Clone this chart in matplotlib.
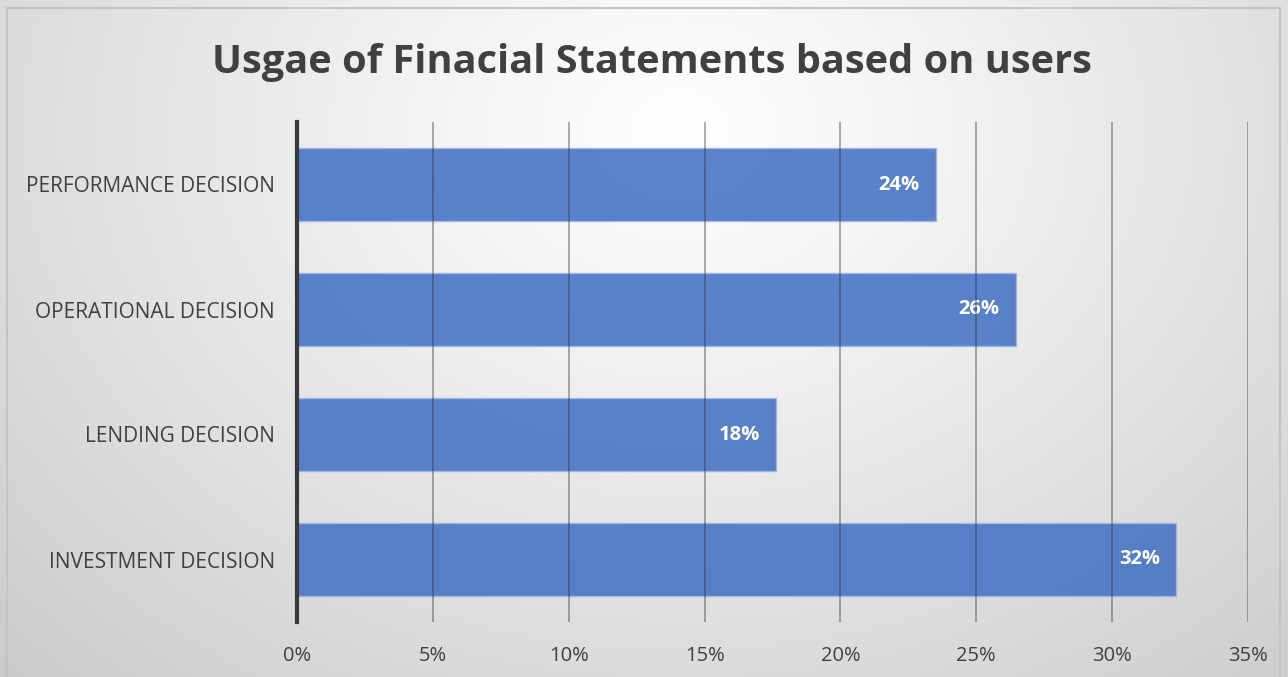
import numpy as np
import matplotlib
matplotlib.use('Agg')
import matplotlib.pyplot as plt
import matplotlib.patches as patches
from matplotlib.ticker import FuncFormatter

# usage per decision type (share of users, %)
categories = ['INVESTMENT DECISION', 'LENDING DECISION', 'OPERATIONAL DECISION', 'PERFORMANCE DECISION']
shares = [32.35, 17.63, 26.46, 23.52]
x_ticks = [0, 5, 10, 15, 20, 25, 30, 35]

TITLE = 'Usgae of Finacial Statements based on users'
BAR_COLOR = '#4472c4'
TEXT_GRAY = '#404040'

plt.rcParams['font.family'] = ['Open Sans', 'DejaVu Sans']

fig = plt.figure(figsize=(12.88, 6.77), dpi=100)

# pozadina - radijalni gradijent, svetlo u sredini gore, sivo prema ivicama
bg = fig.add_axes([0, 0, 1, 1], zorder=-10)
W, H = 1288, 677
xx, yy = np.meshgrid(np.arange(W), np.arange(H))
d = np.sqrt(((xx - 680) / 950.0) ** 2 + ((yy - 130) / 750.0) ** 2)
lvl = 1.0 - 0.2 * np.clip(d, 0, 1) ** 1.1
bg.imshow(np.dstack([lvl, lvl, lvl]), extent=(0, 1, 0, 1), aspect='auto', origin='upper')
bg.add_patch(patches.Rectangle((7 / W, -0.01), (1280 - 7) / W, (677 - 8) / H + 0.01,
                               fill=False, edgecolor='#c4c4c4', linewidth=1.5,
                               transform=bg.transAxes))
bg.set_xlim(0, 1)
bg.set_ylim(0, 1)
bg.axis('off')

ax = fig.add_axes([297 / W, 55 / H, 951 / W, 500 / H])
ax.patch.set_alpha(0)

ypos = np.arange(len(categories))
bars = ax.barh(ypos, shares, height=0.59, color=BAR_COLOR, alpha=0.88,
               edgecolor='#9db6e3', linewidth=1.0, zorder=3)

for b, v in zip(bars, shares):
    ax.text(b.get_width() - 0.6, b.get_y() + b.get_height() / 2, f'{v:.0f}%',
            ha='right', va='center', color='white', fontsize=14.5, fontweight='bold', zorder=4)

ax.set_xlim(0, 35)
ax.set_ylim(-0.5, 3.5)
ax.set_xticks(x_ticks)
ax.xaxis.set_major_formatter(FuncFormatter(lambda v, p: f'{v:.0f}%'))
ax.set_yticks(ypos)
ax.set_yticklabels(categories)

# vertikalne linije mreze preko traka
for t in x_ticks[1:]:
    ax.axvline(t, color='#303030', linewidth=1.1, alpha=0.5, zorder=5)

for s in ['top', 'right', 'bottom']:
    ax.spines[s].set_visible(False)
ax.spines['left'].set_color('#3a3a3a')
ax.spines['left'].set_linewidth(3)
ax.spines['left'].set_zorder(6)

ax.tick_params(axis='x', length=0, pad=17, labelsize=14.5, labelcolor=TEXT_GRAY)
ax.tick_params(axis='y', length=0, pad=16, labelsize=15, labelcolor=TEXT_GRAY)

fig.text(652 / W, 1 - 63 / H, TITLE, ha='center', va='center',
         fontsize=28.6, fontweight='bold', color=TEXT_GRAY)

fig.savefig('out.png', dpi=100)
